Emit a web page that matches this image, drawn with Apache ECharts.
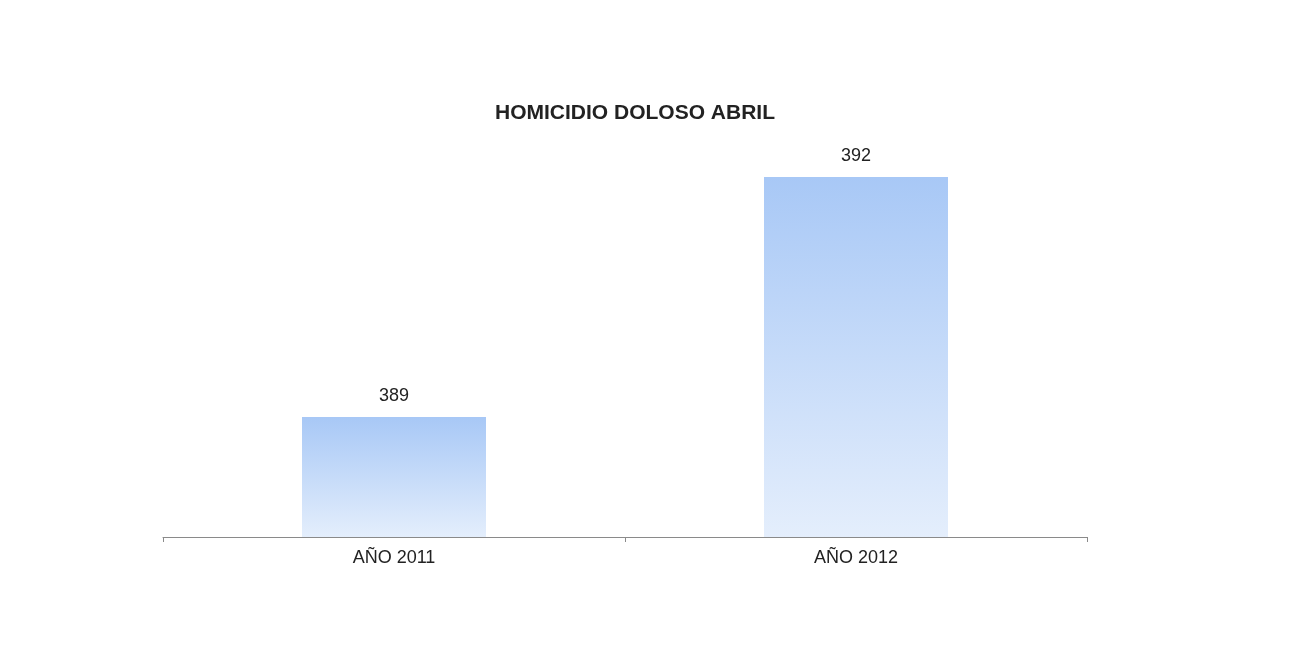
<!DOCTYPE html>
<html>
<head>
<meta charset="utf-8">
<title>HOMICIDIO DOLOSO ABRIL</title>
<script src="https://cdn.jsdelivr.net/npm/echarts@6/dist/echarts.min.js"></script>
<style>
  html, body { margin: 0; padding: 0; background: #ffffff; }
  #chart { width: 1304px; height: 660px; }
</style>
</head>
<body>
<div id="chart"></div>
<script>
// datos
const chartTitle = 'HOMICIDIO DOLOSO ABRIL'
const categories = ['AÑO 2011', 'AÑO 2012']
const values = [389, 392]
// el eje de valores no empieza en cero (oculto en el original)
const yMin = 387.5
const yMax = 393.5

const dom = echarts.init(document.getElementById('chart'))
const option = {
  backgroundColor: '#ffffff',
  animation: false,
  title: {
    text: chartTitle,
    left: 630,
    textAlign: 'center',
    top: 98,
    textStyle: {
      fontFamily: 'Liberation Sans, Arial, sans-serif',
      fontSize: 21,
      fontWeight: 'bold',
      color: '#222222'
    }
  },
  grid: {
    left: 163,
    right: 217,
    top: 57,
    bottom: 123
  },
  xAxis: {
    type: 'category',
    data: categories,
    axisLine: { lineStyle: { color: '#8a8a8a', width: 1 } },
    axisTick: { show: true, length: 5, lineStyle: { color: '#8a8a8a' } },
    axisLabel: {
      margin: 12,
      fontFamily: 'Liberation Sans, Arial, sans-serif',
      fontSize: 18,
      color: '#222222'
    }
  },
  yAxis: {
    type: 'value',
    show: false,
    min: yMin,
    max: yMax,
    splitLine: { show: false }
  },
  series: [
    {
      type: 'bar',
      data: values,
      barWidth: 184,
      itemStyle: {
        color: new echarts.graphic.LinearGradient(0, 0, 0, 1, [
          { offset: 0, color: '#a8c8f6' },
          { offset: 1, color: '#e4eefc' }
        ])
      },
      label: {
        show: true,
        position: 'top',
        distance: 12,
        fontFamily: 'Liberation Sans, Arial, sans-serif',
        fontSize: 18,
        color: '#222222'
      }
    }
  ]
}
dom.setOption(option)
window.addEventListener('resize', () => dom.resize())
</script>
</body>
</html>
